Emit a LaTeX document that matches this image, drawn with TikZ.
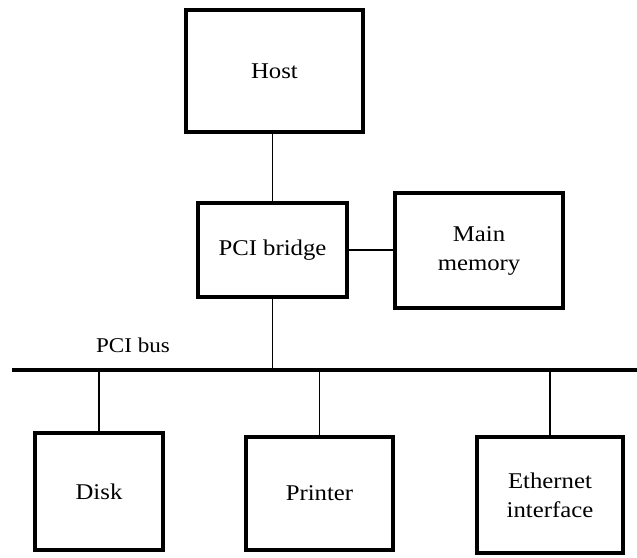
\documentclass[tikz,border=0pt]{standalone}
\usepackage{fontspec}
\setmainfont{Liberation Serif}[FakeStretch=1.1]
\begin{document}
\begin{tikzpicture}[x=1pt,y=-1pt,
  box/.style={draw, line width=3.2pt, inner sep=0pt, align=center,
    font=\fontsize{22.5}{29}\selectfont},
  conn/.style={line width=1.5pt},
  busline/.style={line width=3.2pt},
  lbl/.style={font=\fontsize{21}{26}\selectfont}]
\useasboundingbox[fill=white] (0,0) rectangle (637,557);
\node[box, minimum width=177pt, minimum height=122pt] (host) at (274.5,71) {Host};
\node[box, minimum width=149pt, minimum height=94pt] (bridge) at (272.5,250) {PCI bridge};
\node[box, minimum width=168pt, minimum height=115pt] (mem) at (479,250.5) {Main\\memory};
\node[box, minimum width=128pt, minimum height=117pt] (disk) at (99,491.5) {Disk};
\node[box, minimum width=147pt, minimum height=113pt] (printer) at (319.5,493.5) {Printer};
\node[box, minimum width=146pt, minimum height=116pt] (eth) at (550,495) {Ethernet\\interface};
\coordinate (busL) at (12,370);
\coordinate (busR) at (637,370);
\node[lbl] (buslabel) at (133,345) {PCI bus};
\draw[busline] (busL) -- (busR);
\draw[conn] (bridge.north) -- (bridge.north |- host.south);
\draw[conn] (bridge.east) -- (bridge.east -| mem.west);
\draw[conn] (bridge.south) -- (bridge.south |- busL);
\draw[conn] (disk.north) -- (disk.north |- busL);
\draw[conn] (printer.north) -- (printer.north |- busL);
\draw[conn] (eth.north) -- (eth.north |- busL);
\end{tikzpicture}
\end{document}
